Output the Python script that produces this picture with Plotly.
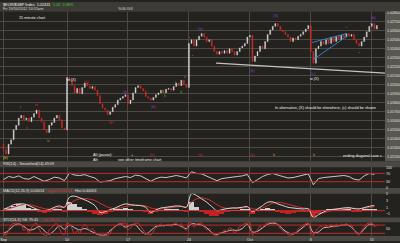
import plotly.graph_objects as go

W, H = 400, 243

# ---------------- data ----------------
closes = [
    1.0128, 1.0123, 1.0134, 1.0139, 1.0150, 1.0155, 1.0163, 1.0166, 1.0161, 1.0163,
    1.0159, 1.0164, 1.0168, 1.0172, 1.0163, 1.0159, 1.0150, 1.0147, 1.0155, 1.0158,
    1.0163, 1.0166, 1.0161, 1.0152, 1.0150, 1.0208, 1.0205, 1.0199, 1.0191, 1.0196,
    1.0190, 1.0197, 1.0202, 1.0199, 1.0196, 1.0198, 1.0194, 1.0188, 1.0179, 1.0174,
    1.0172, 1.0167, 1.0170, 1.0175, 1.0178, 1.0183, 1.0185, 1.0187, 1.0189, 1.0179,
    1.0183, 1.0191, 1.0197, 1.0199, 1.0196, 1.0193, 1.0187, 1.0185, 1.0183, 1.0186,
    1.0189, 1.0191, 1.0194, 1.0191, 1.0195, 1.0196, 1.0194, 1.0198, 1.0202, 1.0199,
    1.0205, 1.0200, 1.0197, 1.0246, 1.0250, 1.0243, 1.0250, 1.0254, 1.0257, 1.0253,
    1.0248, 1.0250, 1.0243, 1.0237, 1.0234, 1.0237, 1.0235, 1.0238, 1.0235, 1.0240,
    1.0237, 1.0233, 1.0237, 1.0241, 1.0243, 1.0246, 1.0253, 1.0255, 1.0226, 1.0232,
    1.0237, 1.0243, 1.0240, 1.0248, 1.0256, 1.0261, 1.0265, 1.0268, 1.0265, 1.0261,
    1.0259, 1.0256, 1.0253, 1.0248, 1.0252, 1.0250, 1.0254, 1.0256, 1.0259, 1.0262,
    1.0266, 1.0237, 1.0224, 1.0240, 1.0243, 1.0248, 1.0245, 1.0250, 1.0246, 1.0253,
    1.0248, 1.0254, 1.0250, 1.0255, 1.0253, 1.0257, 1.0254, 1.0256, 1.0250, 1.0246,
    1.0243, 1.0248, 1.0253, 1.0259, 1.0265, 1.0268, 1.0262, 1.0266,
]
first_open = 1.0134

rsi_vals = [
    40, 55, 50, 58, 45, 42, 55, 45, 32, 40, 52, 48, 35, 72, 62, 60, 64, 55, 48, 28,
    30, 35, 45, 50, 55, 50, 62, 58, 45, 32, 45, 52, 50, 56, 60, 55, 48, 78, 70, 68,
    58, 45, 35, 45, 50, 52, 55, 58, 65, 25, 40, 55, 65, 70, 62, 55, 48, 50, 55, 62,
    68, 15, 45, 50, 52, 55, 58, 60, 55, 42, 38, 58, 70, 65,
]
macd_line = [
    0.4, 1.0, 1.8, 2.0, 2.0, 1.5, 0.8, 0.2, 0.0, 0.3, 1.0, 1.4, 1.0, 4.0, 4.3, 3.8,
    3.2, 2.5, 1.5, -0.5, -0.3, 0.3, 0.8, 1.5, 2.0, 1.8, 1.6, 1.5, 1.0, -0.5, 0.2, 0.8,
    1.0, 1.2, 1.4, 1.3, 1.0, 5.0, 4.5, 3.5, 2.5, 1.2, 0.0, 0.3, 0.6, 0.8, 0.8, 1.0,
    1.2, -0.3, 0.5, 1.5, 2.5, 2.6, 2.0, 1.5, 1.0, 0.8, 0.6, 0.5, 0.5, -2.0, -1.2, -0.4,
    0.2, 0.4, 0.6, 0.8, 0.9, 0.6, 0.5, 0.9, 1.3, 1.5,
]
macd_signal = [
    0.3, 0.6, 1.0, 1.5, 1.8, 1.8, 1.5, 1.0, 0.6, 0.4, 0.6, 0.9, 1.1, 2.0, 3.0, 3.5,
    3.6, 3.4, 3.0, 2.2, 1.4, 0.8, 0.6, 0.8, 1.2, 1.5, 1.6, 1.6, 1.4, 0.8, 0.5, 0.5,
    0.7, 0.9, 1.1, 1.2, 1.2, 2.5, 3.5, 3.8, 3.5, 2.8, 1.8, 1.0, 0.7, 0.7, 0.7, 0.8,
    1.0, 0.6, 0.4, 0.8, 1.5, 2.2, 2.5, 2.3, 1.9, 1.5, 1.1, 0.8, 0.6, -0.4, -0.8, -0.6,
    -0.2, 0.1, 0.3, 0.5, 0.7, 0.7, 0.6, 0.7, 0.9, 1.2,
]
macd_hist = [
    0.2, 0.8, 1.5, 2.0, 1.6, 0.8, 0.3, -0.3, -0.5, -0.2, 0.4, 0.6, -0.2, 2.5, 2.0, 1.0,
    0.4, -0.4, -0.8, -1.2, -1.0, -0.4, 0.3, 0.6, 0.8, 0.4, 0.2, 0.1, -0.3, -1.0, -0.4, 0.2,
    0.3, 0.3, 0.3, 0.2, -0.2, 2.5, 1.2, -0.3, -1.0, -1.4, -1.5, -0.8, -0.2, 0.2, 0.2, 0.3,
    0.3, -0.8, 0.2, 0.6, 0.9, 0.5, -0.4, -0.7, -0.8, -0.6, -0.4, -0.2, -0.1, -1.8, -0.5, 0.2,
    0.4, 0.4, 0.4, 0.4, 0.3, -0.1, -0.1, 0.3, 0.5, 0.4,
]
sto_k = [
    15, 8, 45, 80, 92, 95, 90, 85, 40, 55, 20, 60, 85, 92, 50, 25, 8, 5, 45, 60, 85, 90, 55, 20, 10,
    95, 85, 55, 15, 40, 20, 60, 85, 65, 40, 55, 30, 15, 8, 5, 8, 5, 20, 55, 70, 85, 90, 92, 95,
    45, 60, 85, 92, 95, 70, 45, 20, 12, 8, 35, 60, 75, 88, 70, 82, 85, 70, 88, 95, 75, 90, 60, 40,
    98, 95, 65, 85, 92, 95, 70, 45, 55, 20, 8, 5, 25, 20, 45, 30, 60, 50, 20, 45, 70, 80, 90, 95, 97,
    5, 25, 45, 70, 60, 85, 95, 97, 98, 98, 80, 55, 40, 25, 12, 5, 25, 20, 50, 65, 80, 90, 95,
    30, 3, 40, 55, 75, 60, 80, 60, 85, 65, 85, 70, 88, 75, 92, 70, 80, 45, 20, 8, 40, 65, 88, 95, 97, 70, 80,
]
sto_d = [
    20, 40, 75, 88, 70, 45, 50, 70, 40, 15, 40, 75, 50, 80, 60, 45, 55, 40, 20, 8,
    8, 40, 70, 88, 65, 80, 80, 40, 15, 40, 70, 75, 78, 80, 85, 70, 55, 90, 85, 80,
    60, 25, 12, 25, 35, 45, 40, 55, 85, 30, 35, 60, 85, 95, 85, 50, 25, 15, 35, 65,
    88, 25, 30, 60, 65, 72, 75, 80, 78, 45, 18, 50, 85, 80,
]

day_ticks = [0, 25, 49, 73, 97, 121, 145]
day_labels = ["Sep", "10", "17", "24", "Oct", "8", "15"]
price_ticks = [1.0120, 1.0130, 1.0140, 1.0150, 1.0160, 1.0170, 1.0180, 1.0190, 1.0200,
               1.0210, 1.0220, 1.0230, 1.0240, 1.0250, 1.0260, 1.0270, 1.0280]
rsi_ticks = [0, 30, 70, 100]
rsi_levels = [70, 30]
macd_ticks = [-1, 1, 3, 5]
sto_ticks = [50]
sto_levels = [80, 20]

# trend lines (bar index, price)
trend_x = [83.7, 150.2]
trend_y = [1.0224, 1.0213]
wedge_up_x = [121.5, 135.2]
wedge_up_y = [1.0247, 1.0257]
wedge_lo_x = [121.9, 135.2]
wedge_lo_y = [1.0228, 1.0254]

# ---------------- derived ----------------
bars = list(range(len(closes)))
opens = [first_open] + closes[:-1]
highs = [max(o, c) for o, c in zip(opens, closes)]
lows = [min(o, c) for o, c in zip(opens, closes)]
ind_x = [2 * i for i in range(len(rsi_vals))]
macd_x = [2 * i for i in range(len(macd_line))]
hist_x = [2 * i for i in range(len(macd_hist))]
k_x = list(range(len(sto_k)))
d_x = [2 * i for i in range(len(sto_d))]


def py(p):
    return 1 - p / H


def pxx(p):
    return p / W


XR = [-1.38, 150.2]
XR_END = 385 / W
BG = "#24221e"
GRID = "#4d4a44"
FONT = "Liberation Sans"

fig = go.Figure()

fig.add_trace(go.Candlestick(
    x=bars, open=opens, high=highs, low=lows, close=closes,
    xaxis="x", yaxis="y",
    increasing=dict(line=dict(color="#cfcfcf", width=0.4), fillcolor="#e4e4e4"),
    decreasing=dict(line=dict(color="#d42a2a", width=0.4), fillcolor="#d42a2a"),
    whiskerwidth=0, showlegend=False, hoverinfo="skip",
))

# RSI
fig.add_trace(go.Scatter(x=ind_x, y=rsi_vals, xaxis="x2", yaxis="y2", mode="lines",
                         line=dict(color="#c8c8c8", width=1), showlegend=False, hoverinfo="skip"))

# MACD
fig.add_trace(go.Bar(x=hist_x, y=macd_hist, xaxis="x3", yaxis="y3", width=2,
                     marker=dict(color=["#cfcfcf" if v >= 0 else "#c82020" for v in macd_hist],
                                 line=dict(width=0)),
                     showlegend=False, hoverinfo="skip"))
fig.add_trace(go.Scatter(x=macd_x, y=macd_signal, xaxis="x3", yaxis="y3", mode="lines",
                         line=dict(color="#d03030", width=1, shape="spline"), showlegend=False, hoverinfo="skip"))
fig.add_trace(go.Scatter(x=macd_x, y=macd_line, xaxis="x3", yaxis="y3", mode="lines",
                         line=dict(color="#d8d8d8", width=1, shape="spline"), showlegend=False, hoverinfo="skip"))

# Stochastic
fig.add_trace(go.Scatter(x=d_x, y=sto_d, xaxis="x4", yaxis="y4", mode="lines",
                         line=dict(color="#c8c8c8", width=1, shape="spline"), showlegend=False, hoverinfo="skip"))
fig.add_trace(go.Scatter(x=k_x, y=sto_k, xaxis="x4", yaxis="y4", mode="lines",
                         line=dict(color="#d03030", width=1, shape="spline"), showlegend=False, hoverinfo="skip"))

shapes = []
# background bands
shapes.append(dict(type="rect", xref="paper", yref="paper", x0=0, x1=1, y0=py(10), y1=1,
                   fillcolor="#3d3b36", line=dict(width=0), layer="below"))
shapes.append(dict(type="rect", xref="paper", yref="paper", x0=XR_END, x1=1, y0=py(162), y1=py(10),
                   fillcolor="#5a5750", line=dict(width=0), layer="below"))
for a, b in [(162, 168), (189, 195), (219, 224), (238, 243)]:
    shapes.append(dict(type="rect", xref="paper", yref="paper", x0=0, x1=1, y0=py(b), y1=py(a),
                       fillcolor="#4a4843", line=dict(width=0), layer="below"))
# level lines
for lv in rsi_levels:
    shapes.append(dict(type="line", xref="paper", yref="y2", x0=0, x1=XR_END, y0=lv, y1=lv,
                       line=dict(color="#c02a2a", width=1)))
shapes.append(dict(type="line", xref="paper", yref="y3", x0=0, x1=XR_END, y0=0, y1=0,
                   line=dict(color="#c02a2a", width=1)))
for lv in sto_levels:
    shapes.append(dict(type="line", xref="paper", yref="y4", x0=0, x1=XR_END, y0=lv, y1=lv,
                       line=dict(color="#c02a2a", width=1)))
# trend lines
shapes.append(dict(type="line", xref="x", yref="y", x0=trend_x[0], x1=trend_x[1], y0=trend_y[0], y1=trend_y[1],
                   line=dict(color="#c4c4c4", width=1.3)))
shapes.append(dict(type="line", xref="x", yref="y", x0=wedge_up_x[0], x1=wedge_up_x[1], y0=wedge_up_y[0], y1=wedge_up_y[1],
                   line=dict(color="#2f80c8", width=1)))
shapes.append(dict(type="line", xref="x", yref="y", x0=wedge_lo_x[0], x1=wedge_lo_x[1], y0=wedge_lo_y[0], y1=wedge_lo_y[1],
                   line=dict(color="#2f80c8", width=1)))

WHITE = "#eeeeee"
RED = "#d03030"
PURP = "#8a40c0"
GREEN = "#30a030"
ORANGE = "#d08020"
BLUE = "#3080d0"
texts = [
    ("$EUR/$GBP Index  1.02431", 2, 2.8, WHITE, "left"),
    ("1.02  0.08%", 52, 2.8, "#30d030", "left"),
    ("Fri 19/10/2012 10:55am", 2, 7.2, "#dddddd", "left"),
    ("%GL/G3", 117, 7.2, "#dddddd", "left"),
    ("15 minute chart", 18, 16, WHITE, "left"),
    ("i", 20, 107, ORANGE, "center"),
    ("iii", 36, 105, RED, "center"),
    ("ii", 27, 128, RED, "center"),
    ("iv", 48, 141, ORANGE, "center"),
    ("w (X)", 72, 79, WHITE, "center"),
    ("(x)", 86, 81, RED, "center"),
    ("(y)", 111, 122, RED, "center"),
    ("(a)", 125, 91, PURP, "center"),
    ("(b)", 153, 107, PURP, "center"),
    ("a", 162, 90, GREEN, "center"),
    ("b", 165, 96, GREEN, "center"),
    ("c", 176, 81, GREEN, "center"),
    ("d", 181, 92, GREEN, "center"),
    ("e", 185, 76, GREEN, "center"),
    ("(a)", 201, 27, PURP, "center"),
    ("(b)", 253, 70, PURP, "center"),
    ("(X)", 276, 14, PURP, "center"),
    ("(c)", 313, 73, PURP, "center"),
    ("(b)", 373, 16, PURP, "center"),
    ("•", 190, 37, BLUE, "center"),
    ("•", 193, 55, BLUE, "center"),
    ("•", 347, 26, BLUE, "center"),
    ("•", 360, 52, BLUE, "center"),
    ("•", 371, 22, BLUE, "center"),
    ("w (X)", 315, 78, WHITE, "center"),
    ("In alternative, (X) should be elsewhere, (c) should be shown", 325, 108, WHITE, "center"),
    ("Alt (pause):", 92, 156, WHITE, "left"),
    ("=", 132, 156, "#a0a0a0", "center"),
    ("(c)", 152, 156, RED, "center"),
    ("(x)", 201, 156, RED, "center"),
    ("(x)", 252, 156, RED, "center"),
    ("b", 274, 156, ORANGE, "center"),
    ("b", 314, 156, ORANGE, "center"),
    ("ending diagonal case c", 342, 157, WHITE, "left"),
    ("Alt:", 92, 160.5, WHITE, "left"),
    ("see other timeframe chart", 117, 160.5, WHITE, "left"),
    ("i", 3, 152, RED, "center"),
    ("(b)", 5, 159, "#d0c020", "center"),
    ("RSI(14) - Smoothed(14) 49.09", 2, 165, "#e0e0e0", "left"),
    ("MACD(12,26,9) 0.00014", 2, 192, "#e0e0e0", "left"),
    ("Signal 0.00011", 46, 192, RED, "left"),
    ("Hist 0.00003", 74, 192, "#e0e0e0", "left"),
    ("STO(14,3) %K 79.41", 2, 221.5, "#e0e0e0", "left"),
    ("%D 80.12", 42, 221.5, RED, "left"),
]
annotations = []
for t, x, y, c, anc in texts:
    annotations.append(dict(text=t, x=pxx(x), y=py(y), xref="paper", yref="paper",
                            xanchor=anc, yanchor="middle", showarrow=False, borderpad=0,
                            font=dict(size=3.8, color=c, family=FONT)))

common_x = dict(range=XR, showgrid=True, gridcolor=GRID, gridwidth=1, zeroline=False,
                tickvals=day_ticks, showticklabels=False, ticks="", showline=False,
                fixedrange=True, domain=[0, XR_END])
tickfont = dict(size=3.6, color="#e0e0e0", family=FONT)

fig.update_layout(
    width=W, height=H, margin=dict(l=0, r=0, t=0, b=0),
    paper_bgcolor=BG, plot_bgcolor=BG, showlegend=False, bargap=0, boxgap=0.45,
    xaxis=dict(**common_x, anchor="y", rangeslider=dict(visible=False)),
    xaxis2=dict(**common_x, anchor="y2"),
    xaxis3=dict(**common_x, anchor="y3"),
    xaxis4=dict(**{k: v for k, v in common_x.items() if k != "showticklabels"}, anchor="y4",
                showticklabels=True, ticktext=day_labels, tickfont=tickfont, ticklabelstandoff=0),
    yaxis=dict(domain=[py(162), py(10)], range=[1.01149, 1.02811], side="right", anchor="x",
               tickvals=price_ticks, ticktext=["%.5f" % v for v in price_ticks], tickfont=tickfont,
               showgrid=True, gridcolor=GRID, zeroline=False, ticks="", fixedrange=True,
               ticklabelstandoff=1),
    yaxis2=dict(domain=[py(189), py(168)], range=[0, 100], side="right", anchor="x2",
                tickvals=rsi_ticks, tickfont=tickfont, showgrid=False, zeroline=False, ticks="", fixedrange=True),
    yaxis3=dict(domain=[py(219), py(195)], range=[-2, 5], side="right", anchor="x3",
                tickvals=macd_ticks, tickfont=tickfont, showgrid=False, zeroline=False, ticks="", fixedrange=True),
    yaxis4=dict(domain=[py(238), py(224)], range=[0, 100], side="right", anchor="x4",
                tickvals=sto_ticks, tickfont=tickfont, showgrid=False, zeroline=False, ticks="", fixedrange=True),
    shapes=shapes, annotations=annotations,
)

fig.write_html("out.html", config={"displayModeBar": False},
               post_script="document.body.style.margin='0';document.body.style.padding='0';"
                           "document.body.style.overflow='hidden';")
